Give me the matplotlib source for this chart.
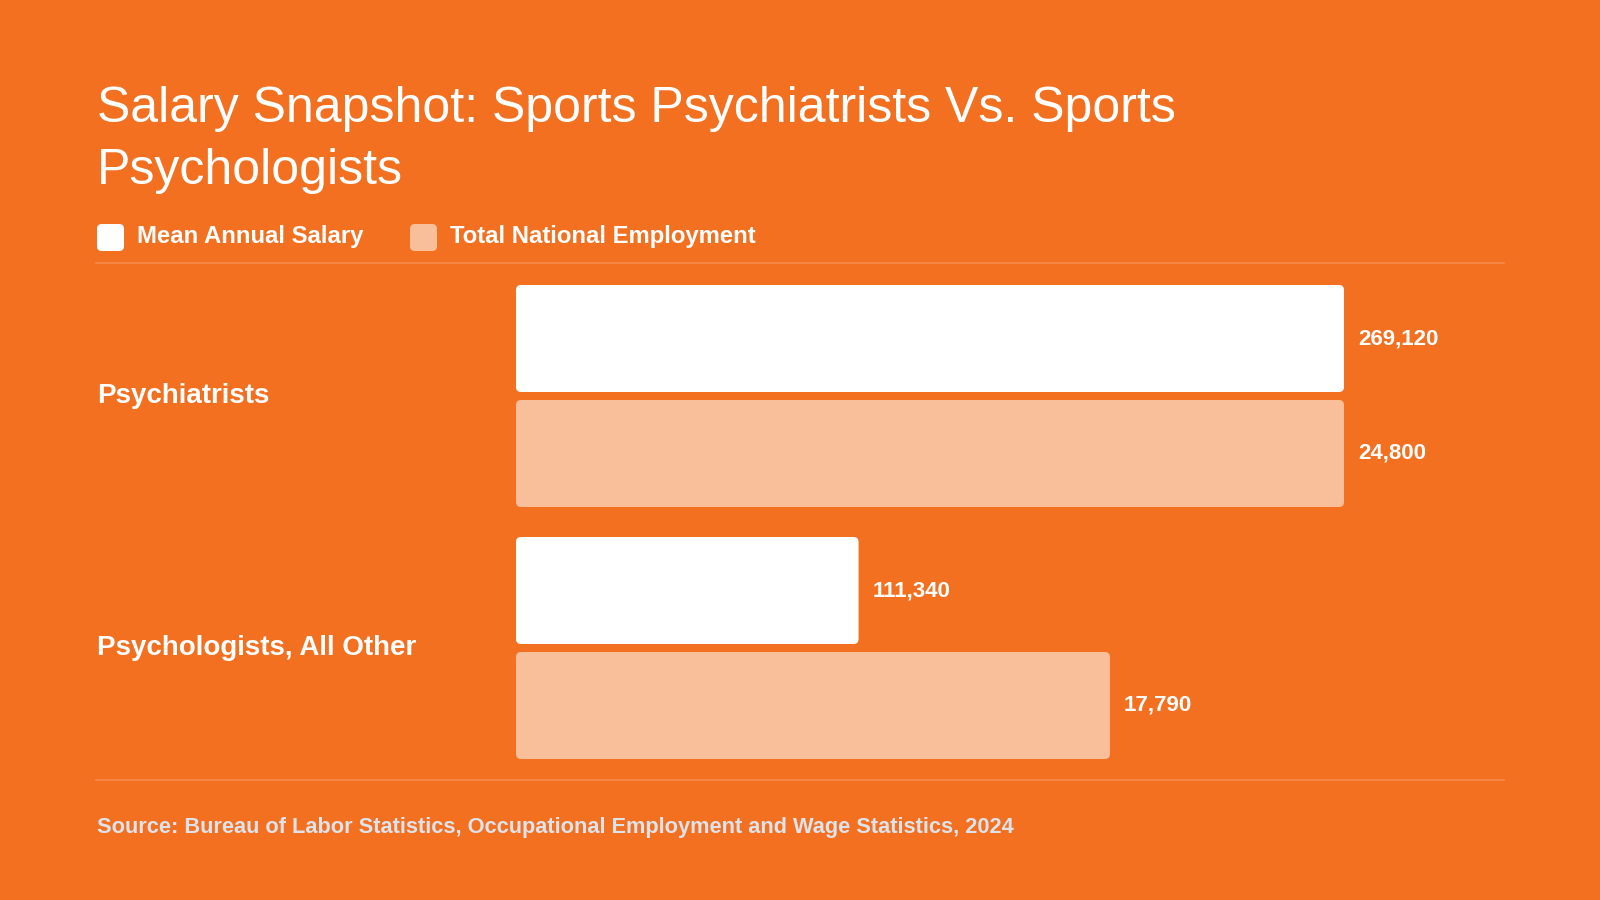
import matplotlib.pyplot as plt
from matplotlib.patches import FancyBboxPatch
from matplotlib.lines import Line2D
import matplotlib.transforms as mtransforms

categories = ["Psychiatrists", "Psychologists, All Other"]
salary = [269120, 111340]
employment = [24800, 17790]
series_names = ["Mean Annual Salary", "Total National Employment"]

BG = "#F37021"
LIGHT = "#F9BE9A"
RULE = "#F68B4E"
SOURCE = "#DDE3EA"

plt.rcParams["font.family"] = ["Liberation Sans", "DejaVu Sans"]

W, H = 1600, 900
fig = plt.figure(figsize=(16, 9), dpi=100, facecolor=BG)


def fx(px):
    return px / W


def fy(py):
    return 1 - py / H


# title
fig.text(fx(97), fy(86.5), "Salary Snapshot: Sports Psychiatrists Vs. Sports\nPsychologists",
         color="white", fontsize=36, va="top", ha="left", linespacing=1.44)

# legend
for lx, name, col in [(97, series_names[0], "white"), (410, series_names[1], LIGHT)]:
    fig.add_artist(FancyBboxPatch((fx(lx), fy(251)), fx(27), 27 / H,
                                  boxstyle="round,pad=0,rounding_size=0.003",
                                  mutation_aspect=W / H,
                                  transform=fig.transFigure, facecolor=col, edgecolor="none"))
    fig.text(fx(lx + 40), fy(237), name, color="white", fontsize=17.2,
             fontweight="bold", va="center", ha="left")

# rules
for ry in (263, 780):
    fig.add_artist(Line2D([fx(96), fx(1504)], [fy(ry), fy(ry)], color=RULE, lw=1.2,
                          transform=fig.transFigure))

# bars: each series scaled to its own maximum
ax = fig.add_axes([fx(516), fy(780), fx(1504 - 516), (780 - 263) / H])
ax.set_facecolor("none")
ax.set_xlim(0, 988 / 828)
ax.set_ylim(1 + 132 / 252, -133 / 252)
ax.axis("off")

bh = 107 / 252
off = 57.5 / 252
ypos = list(range(len(categories)))
sal_frac = [v / max(salary) for v in salary]
emp_frac = [v / max(employment) for v in employment]

b1 = ax.barh([y - off for y in ypos], sal_frac, height=bh, color="white")
b2 = ax.barh([y + off for y in ypos], emp_frac, height=bh, color=LIGHT)

aspect = (1 / 252) / (1 / 828)
for bars in (b1, b2):
    for p in bars:
        p.set_visible(False)
        ax.add_patch(FancyBboxPatch((p.get_x(), p.get_y()), p.get_width(), p.get_height(),
                                    boxstyle="round,pad=0,rounding_size=%f" % (5 / 828),
                                    mutation_aspect=aspect,
                                    facecolor=p.get_facecolor(), edgecolor="none"))

for bars, vals in ((b1, salary), (b2, employment)):
    for p, v in zip(bars, vals):
        ax.annotate(f"{v:,}", (p.get_width(), p.get_y() + p.get_height() / 2),
                    xytext=(10, 0), textcoords="offset points", color="white",
                    fontsize=16, fontweight="bold", va="center", ha="left")

# category labels
trans = mtransforms.blended_transform_factory(fig.transFigure, ax.transData)
for y, c in zip(ypos, categories):
    ax.text(fx(97), y, c, transform=trans, color="white", fontsize=20,
            fontweight="bold", va="center", ha="left")

# source
fig.text(fx(97), fy(828), "Source: Bureau of Labor Statistics, Occupational Employment and Wage Statistics, 2024",
         color=SOURCE, fontsize=15.7, fontweight="bold", va="center", ha="left")

fig.savefig("out.png", dpi=100, facecolor=BG)
